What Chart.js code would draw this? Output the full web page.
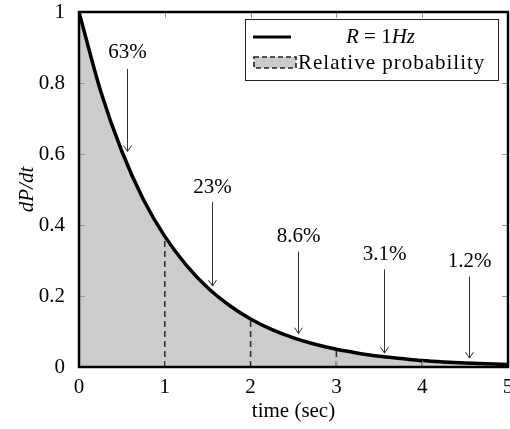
<!DOCTYPE html>
<html>
<head>
<meta charset="utf-8">
<script src="https://cdn.jsdelivr.net/npm/chart.js@4"></script>
<style>
  html, body { margin: 0; padding: 0; background: #fff; }
  #wrap { width: 510px; height: 429px; }
</style>
</head>
<body>
<div id="wrap"><canvas id="chart" width="510" height="429"></canvas></div>
<script>
// curve dP/dt (t in sec)
const times = [0, 0.25, 0.5, 0.75, 1, 1.25, 1.5, 1.75, 2, 2.25, 2.5, 2.75, 3, 3.25, 3.5, 3.75, 4, 4.25, 4.5, 4.75, 5];
const rate = [1, 0.779, 0.607, 0.472, 0.368, 0.287, 0.223, 0.174, 0.135, 0.105, 0.082, 0.064, 0.050, 0.039, 0.030, 0.024, 0.018, 0.014, 0.011, 0.009, 0.007];

// dashed separators
const dashX = [1, 2, 3, 4];
const dashTop = [0.368, 0.135, 0.050, 0.018];

// arrow annotations
const arrowLabels = ["63%", "23%", "8.6%", "3.1%", "1.2%"];
const arrowX = [0.56, 1.55, 2.55, 3.55, 4.55];
const arrowFrom = [0.84, 0.465, 0.325, 0.275, 0.255];
const arrowTo = [0.607, 0.228, 0.094, 0.039, 0.025];
const labelY = [0.886, 0.506, 0.367, 0.317, 0.297];

const xTicks = [0, 1, 2, 3, 4, 5];
const yTicks = [0, 0.2, 0.4, 0.6, 0.8, 1];

const serif = "'Liberation Serif', 'DejaVu Serif', serif";

const datasets = [{
  label: "R = 1Hz",
  data: times.map((t, i) => ({ x: t, y: rate[i] })),
  borderColor: "#000",
  borderWidth: 3.5,
  backgroundColor: "#cccccc",
  fill: "origin",
  pointRadius: 0,
  cubicInterpolationMode: "monotone"
}];
dashX.forEach((x, i) => {
  datasets.push({
    label: "dash" + i,
    data: [{ x: x, y: 0 }, { x: x, y: dashTop[i] }],
    borderColor: "#333",
    borderWidth: 1.6,
    borderDash: [6, 4],
    fill: false,
    pointRadius: 0
  });
});

// inside tick marks, frame, arrows, legend
const decor = {
  id: "decor",
  afterDatasetsDraw(chart) {
    const { ctx, chartArea: a, scales } = chart;
    const sx = scales.x, sy = scales.y;
    ctx.save();
    // tick marks
    ctx.strokeStyle = "#999";
    ctx.lineWidth = 1;
    ctx.beginPath();
    xTicks.slice(1, -1).forEach(v => {
      const px = Math.round(sx.getPixelForValue(v)) + 0.5;
      ctx.moveTo(px, a.bottom); ctx.lineTo(px, a.bottom - 6);
      ctx.moveTo(px, a.top); ctx.lineTo(px, a.top + 6);
    });
    yTicks.slice(1, -1).forEach(v => {
      const py = Math.round(sy.getPixelForValue(v)) + 0.5;
      ctx.moveTo(a.left, py); ctx.lineTo(a.left + 6, py);
      ctx.moveTo(a.right, py); ctx.lineTo(a.right - 6, py);
    });
    ctx.stroke();
    // frame
    ctx.strokeStyle = "#000";
    ctx.lineWidth = 2.5;
    ctx.strokeRect(a.left, a.top, a.right - a.left, a.bottom - a.top);

    // arrows
    ctx.strokeStyle = "#333";
    ctx.fillStyle = "#000";
    ctx.lineWidth = 1;
    ctx.font = "21px " + serif;
    ctx.textAlign = "center";
    ctx.textBaseline = "middle";
    arrowLabels.forEach((lab, i) => {
      const px = Math.round(sx.getPixelForValue(arrowX[i])) + 0.5;
      const y1 = sy.getPixelForValue(arrowFrom[i]);
      const y2 = sy.getPixelForValue(arrowTo[i]);
      ctx.beginPath();
      ctx.moveTo(px, y1); ctx.lineTo(px, y2);
      ctx.moveTo(px - 4, y2 - 6); ctx.lineTo(px, y2); ctx.lineTo(px + 4, y2 - 6);
      ctx.stroke();
      ctx.fillText(lab, px, sy.getPixelForValue(labelY[i]));
    });

    // legend
    ctx.fillStyle = "#fff";
    ctx.fillRect(245, 19, 254, 62);
    ctx.strokeStyle = "#222";
    ctx.lineWidth = 1;
    ctx.strokeRect(245.5, 19.5, 253, 61);
    ctx.strokeStyle = "#000";
    ctx.lineWidth = 3;
    ctx.beginPath();
    ctx.moveTo(253, 37); ctx.lineTo(291, 37);
    ctx.stroke();
    ctx.fillStyle = "#cccccc";
    ctx.fillRect(254, 57, 42, 11);
    ctx.setLineDash([5, 3]);
    ctx.lineWidth = 1.6;
    ctx.strokeStyle = "#222";
    ctx.strokeRect(254, 57, 42, 11);
    ctx.setLineDash([]);
    ctx.fillStyle = "#000";
    ctx.textAlign = "left";
    ctx.font = "italic 21px " + serif;
    let tx = 346;
    ctx.fillText("R", tx, 37); tx += ctx.measureText("R").width;
    ctx.font = "21px " + serif;
    ctx.fillText(" = 1", tx, 37); tx += ctx.measureText(" = 1").width;
    ctx.font = "italic 21px " + serif;
    ctx.fillText("Hz", tx, 37);
    ctx.font = "21px " + serif;
    ctx.letterSpacing = "1px";
    ctx.fillText("Relative probability", 298, 63);
    ctx.restore();
  }
};

new Chart(document.getElementById("chart"), {
  type: "line",
  data: { datasets: datasets },
  plugins: [decor],
  options: {
    responsive: false,
    animation: false,
    layout: { padding: { top: 12, right: 2, left: 0, bottom: 0 } },
    plugins: {
      legend: { display: false },
      tooltip: { enabled: false },
      filler: { drawTime: "beforeDatasetsDraw" }
    },
    scales: {
      x: {
        type: "linear",
        min: 0, max: 5,
        afterBuildTicks: s => { s.ticks = xTicks.map(v => ({ value: v })); },
        afterFit: s => { s.height = 62; s.paddingLeft = 0; s.paddingRight = 0; },
        grid: { display: false },
        border: { display: false },
        ticks: { color: "#000", padding: 0, maxRotation: 0, font: { family: serif, size: 21 },
                 callback: v => String(+v.toFixed(1)) },
        title: { display: true, text: "time (sec)", color: "#000", padding: { top: 0, bottom: 5 }, font: { family: serif, size: 21 } }
      },
      y: {
        min: 0, max: 1,
        afterBuildTicks: s => { s.ticks = yTicks.map(v => ({ value: v })); },
        afterFit: s => { s.width = 79; s.paddingTop = 0; s.paddingBottom = 0; },
        grid: { display: false },
        border: { display: false },
        ticks: { color: "#000", padding: 6, font: { family: serif, size: 21 },
                 callback: v => String(+v.toFixed(1)) },
        title: { display: true, text: "dP/dt", color: "#000", padding: { top: 15, bottom: 8 }, font: { family: serif, size: 21, style: "italic" } }
      }
    }
  }
});
</script>
</body>
</html>
